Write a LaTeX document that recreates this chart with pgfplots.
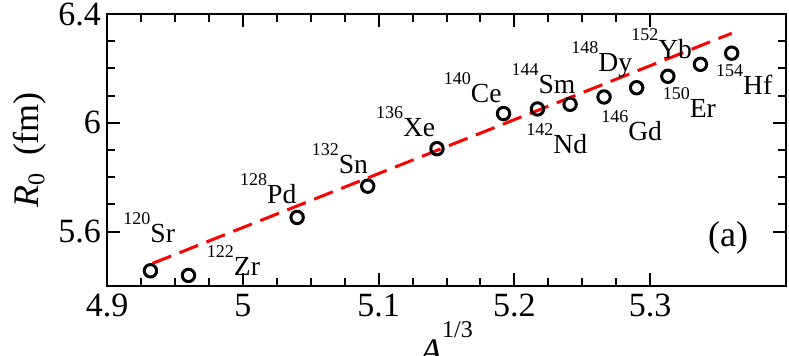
\documentclass[border=0pt]{standalone}
\usepackage{fontspec}
\setmainfont{LiberationSerif}[Extension=.ttf, UprightFont=*-Regular, ItalicFont=*-Italic, BoldFont=*-Bold, BoldItalicFont=*-BoldItalic]
\usepackage{pgfplots}
\pgfplotsset{compat=1.18}

% isotope label: small raised mass number, then the symbol
\newcommand\iso[2]{\raisebox{9pt}{\fontsize{9}{9}\selectfont #1}#2}

\begin{document}
\begin{tikzpicture}
\begin{axis}[
    width=339.5pt, height=136pt, scale only axis,
    xmin=4.9, xmax=5.4, ymin=5.4, ymax=6.4,
    xtick={4.9,5,5.1,5.2,5.3}, ytick={5.6,6,6.4},
    minor x tick num=3, minor y tick num=3,
    tick align=inside,
    major tick length=6.5pt, minor tick length=4pt,
    axis line style={line width=1pt},
    every tick/.style={black, line width=1pt},
    tick label style={font=\fontsize{17}{17}\selectfont},
    /pgf/number format/assume math mode=true,
    xticklabel style={yshift=-0.5pt},
    yticklabel style={xshift=0.5pt},
    xlabel={\textit{A}\raisebox{13pt}{\fontsize{12}{12}\selectfont 1/3}},
    ylabel={\textit{R}\raisebox{-3pt}{\fontsize{12}{12}\selectfont 0}\ \ (fm)},
    label style={font=\fontsize{18}{18}\selectfont},
    xlabel style={at={(axis description cs:0.5,0)}, anchor=north, yshift=-14.5pt},
    ylabel style={at={(axis description cs:0,0.5)}, anchor=south, yshift=27pt},
]
% linear fit
\addplot[red, line width=1.5pt, dash pattern=on 10pt off 4.5pt] coordinates {
    (4.9335,5.483) (5.360,6.329)
};
% R0 values
\addplot[only marks, mark=o, mark size=3.1pt, mark options={line width=1.5pt}] coordinates {
    (4.932,5.456) (4.960,5.439) (5.040,5.652) (5.092,5.767)
    (5.143,5.905) (5.192,6.034) (5.217,6.051) (5.241,6.068)
    (5.266,6.095) (5.290,6.129) (5.313,6.171) (5.337,6.215)
    (5.360,6.256)
};
\begin{scope}[every node/.style={anchor=base west, inner sep=0pt, font=\fontsize{13.8}{14}\selectfont}]
\node at (axis cs:4.9118,5.559) {\iso{120}{Sr}};
\node at (axis cs:4.9733,5.437) {\iso{122}{Zr}};
\node at (axis cs:4.9978,5.703) {\iso{128}{Pd}};
\node at (axis cs:5.0505,5.814) {\iso{132}{Sn}};
\node at (axis cs:5.0978,5.950) {\iso{136}{Xe}};
\node at (axis cs:5.1478,6.076) {\iso{140}{Ce}};
\node at (axis cs:5.2086,5.887) {\iso{142}{Nd}};
\node at (axis cs:5.1976,6.109) {\iso{144}{Sm}};
\node at (axis cs:5.2637,5.936) {\iso{146}{Gd}};
\node at (axis cs:5.2417,6.189) {\iso{148}{Dy}};
\node at (axis cs:5.3090,6.021) {\iso{150}{Er}};
\node at (axis cs:5.2858,6.238) {\iso{152}{Yb}};
\node at (axis cs:5.3483,6.103) {\iso{154}{Hf}};
\end{scope}
\node[font=\fontsize{18}{18}\selectfont] at (axis cs:5.3574,5.576) {(a)};
\coordinate (bl) at (rel axis cs:0,0);
\coordinate (tr) at (rel axis cs:1,1);
\end{axis}
\pgfresetboundingbox
\useasboundingbox ([shift={(-53.5pt,-34.5pt)}]bl) rectangle ([shift={(1.5pt,7pt)}]tr);
\end{tikzpicture}
\end{document}
